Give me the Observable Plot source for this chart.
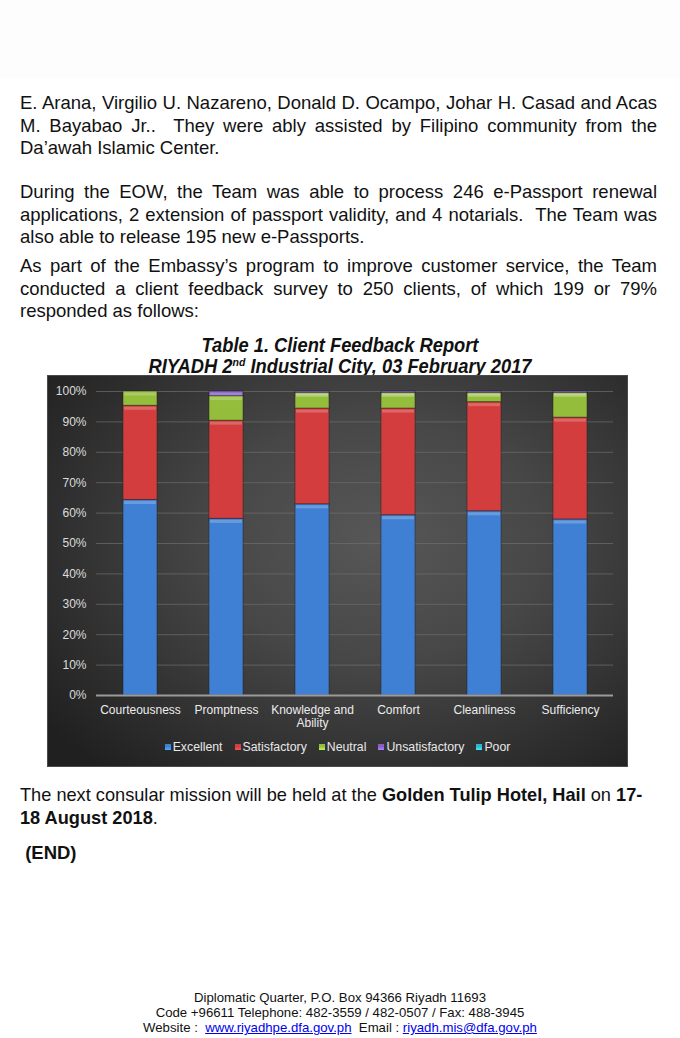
<!DOCTYPE html>
<html>
<head>
<meta charset="utf-8">
<script src="https://cdn.jsdelivr.net/npm/d3@7"></script>
<script src="https://cdn.jsdelivr.net/npm/@observablehq/plot@0.6"></script>
<style>
  html, body { margin: 0; padding: 0; background: #fff; }
  body { width: 680px; height: 1038px; position: relative; overflow: hidden; }
  .top-fade { position: absolute; left: 0; top: 0; width: 680px; height: 78px; background: #fdfdfd; }
  .para { position: absolute; left: 20px; width: 637px; font-family: "Liberation Sans Narrow", "Arial Narrow", "Liberation Sans", sans-serif; font-size: 18.5px; line-height: 22.5px; color: #111; }
  .para .ln { white-space: nowrap; text-align: justify; text-align-last: justify; }
  .para .ln.last { text-align-last: left; }
  .title { position: absolute; left: 0; width: 680px; text-align: center; font-family: "Liberation Sans Narrow", "Arial Narrow", "Liberation Sans", sans-serif; font-weight: bold; font-style: italic; font-size: 20px; line-height: 21px; color: #111; }
  .title div { transform: scaleX(0.915); transform-origin: 340px 0; }
  .title sup { font-size: 11.5px; line-height: 0; vertical-align: 7px; }
  #chart { position: absolute; left: 48px; top: 376px; width: 579px; height: 390px; }
  #chart svg { display: block; background: radial-gradient(ellipse 72% 78% at 57% 42%, #575757 0%, #474747 40%, #303030 75%, #202020 100%); outline: 1px solid #4a4a4a; }
  .legend { position: absolute; left: 0; width: 579px; top: 364px; display: flex; justify-content: center; gap: 12px; font-family: "Liberation Sans", Arial, sans-serif; font-size: 12.3px; color: #e8e8e8; line-height: 14px; }
  .legend span.sw { display: inline-block; width: 6px; height: 6px; margin-right: 2px; vertical-align: 1px; }
  .footer { position: absolute; left: 0; width: 680px; top: 990px; text-align: center; font-family: "Liberation Sans", Arial, sans-serif; font-size: 13.2px; line-height: 15px; color: #111; }
  .footer a { color: #0000ee; text-decoration: underline; }
</style>
</head>
<body>
<div class="top-fade"></div>

<div class="para" style="top:92px">
  <div class="ln">E. Arana, Virgilio U. Nazareno, Donald D. Ocampo, Johar H. Casad and Acas</div>
  <div class="ln">M. Bayabao Jr..&nbsp; They were ably assisted by Filipino community from the</div>
  <div class="ln last">Da’awah Islamic Center.</div>
</div>

<div class="para" style="top:181px">
  <div class="ln">During the EOW, the Team was able to process 246 e-Passport renewal</div>
  <div class="ln">applications, 2 extension of passport validity, and 4 notarials.&nbsp; The Team was</div>
  <div class="ln last">also able to release 195 new e-Passports.</div>
</div>

<div class="para" style="top:255px">
  <div class="ln">As part of the Embassy’s program to improve customer service, the Team</div>
  <div class="ln">conducted a client feedback survey to 250 clients, of which 199 or 79%</div>
  <div class="ln last">responded as follows:</div>
</div>

<div class="title" style="top:335px">
  <div>Table 1. Client Feedback Report</div>
  <div>RIYADH 2<sup>nd</sup> Industrial City, 03 February 2017</div>
</div>

<div id="chart"></div>

<div class="para" style="top:784px; font-size:18.2px">
  <div class="ln last">The next consular mission will be held at the <b>Golden Tulip Hotel, Hail</b> on <b>17-</b></div>
  <div class="ln last"><b>18 August 2018</b>.</div>
</div>

<div class="para" style="top:842px">
  <div class="ln last">&nbsp;<b>(END)</b></div>
</div>

<div class="footer">
  <div>Diplomatic Quarter, P.O. Box 94366 Riyadh 11693</div>
  <div>Code +96611 Telephone: 482-3559 / 482-0507 / Fax: 488-3945</div>
  <div>Website :&nbsp; <a>www.riyadhpe.dfa.gov.ph</a>&nbsp; Email : <a>riyadh.mis@dfa.gov.ph</a></div>
</div>

<script>
// ---- Data (percent of respondents) ----
const categories = ["Courteousness", "Promptness", "Knowledge and Ability", "Comfort", "Cleanliness", "Sufficiency"];
const ratings = ["Excellent", "Satisfactory", "Neutral", "Unsatisfactory", "Poor"];
const excellent      = [64.3, 58.1, 62.9, 59.3, 60.6, 57.9];
const satisfactory   = [31.0, 32.3, 31.5, 35.1, 35.9, 33.5];
const neutral        = [4.7, 8.1, 5.1, 5.1, 3.0, 8.1];
const unsatisfactory = [0.0, 1.5, 0.5, 0.5, 0.5, 0.5];
const poor           = [0, 0, 0, 0, 0, 0];
const yTicks = [0, 10, 20, 30, 40, 50, 60, 70, 80, 90, 100];
const ratingColors = ["#3f80d4", "#d33d3d", "#94bd3c", "#8660c6", "#2fb4cc"];

const series = [excellent, satisfactory, neutral, unsatisfactory, poor];
const data = [];
categories.forEach((c, i) => {
  ratings.forEach((r, j) => data.push({category: c, rating: r, value: series[j][i]}));
});
const shown = data.filter(d => d.value > 0);

// fix paragraph line widths if a fallback font is wider
document.querySelectorAll(".para .ln").forEach(el => {
  const w = el.scrollWidth;
  if (w > 637) { el.style.transformOrigin = "0 0"; el.style.transform = `scaleX(${637 / w})`; el.style.width = w + "px"; }
});

const chart = Plot.plot({
  width: 579,
  height: 390,
  marginLeft: 48,
  marginRight: 14,
  marginTop: 15,
  marginBottom: 71,
  style: {fontFamily: "'Liberation Sans', Arial, sans-serif", fontSize: "12px", overflow: "visible"},
  x: {domain: categories, paddingInner: 0.605, paddingOuter: 0.3, label: null},
  y: {domain: [0, 100], label: null},
  color: {domain: ratings, range: ratingColors},
  marks: [
    Plot.gridY(yTicks, {stroke: "#6e6e6e", strokeOpacity: 0.7, strokeWidth: 1}),
    Plot.axisY(yTicks, {tickSize: 0, tickPadding: 10, tickFormat: d => d + "%", fill: "#dcdcdc", fontSize: 12}),
    Plot.axisX({tickSize: 0, tickPadding: 9, fill: "#ececec", fontSize: 12, lineHeight: 1.1,
      tickFormat: d => d === "Knowledge and Ability" ? "Knowledge and\nAbility" : d}),
    Plot.barY(shown, {x: "category", y: "value", fill: "rating", order: ratings,
      stroke: "#1a1a1a", strokeOpacity: 0.45, strokeWidth: 1}),
    Plot.tickY(shown, Plot.stackY2({x: "category", y: "value", z: "rating", order: ratings,
      stroke: "#ffffff", strokeOpacity: 0.22, strokeWidth: 3, dy: 2.5, inset: 1})),
    Plot.ruleY([0], {stroke: "#9a9a9a", strokeWidth: 2})
  ]
});

const host = document.getElementById("chart");
host.appendChild(chart);

const legend = document.createElement("div");
legend.className = "legend";
ratings.forEach((r, i) => {
  const item = document.createElement("div");
  const sw = document.createElement("span");
  sw.className = "sw";
  sw.style.background = `linear-gradient(${ratingColors[i]}, ${ratingColors[i]} 40%, ${d3.color(ratingColors[i]).brighter(0.8)})`;
  item.appendChild(sw);
  item.appendChild(document.createTextNode(r));
  legend.appendChild(item);
});
host.appendChild(legend);
</script>
</body>
</html>
